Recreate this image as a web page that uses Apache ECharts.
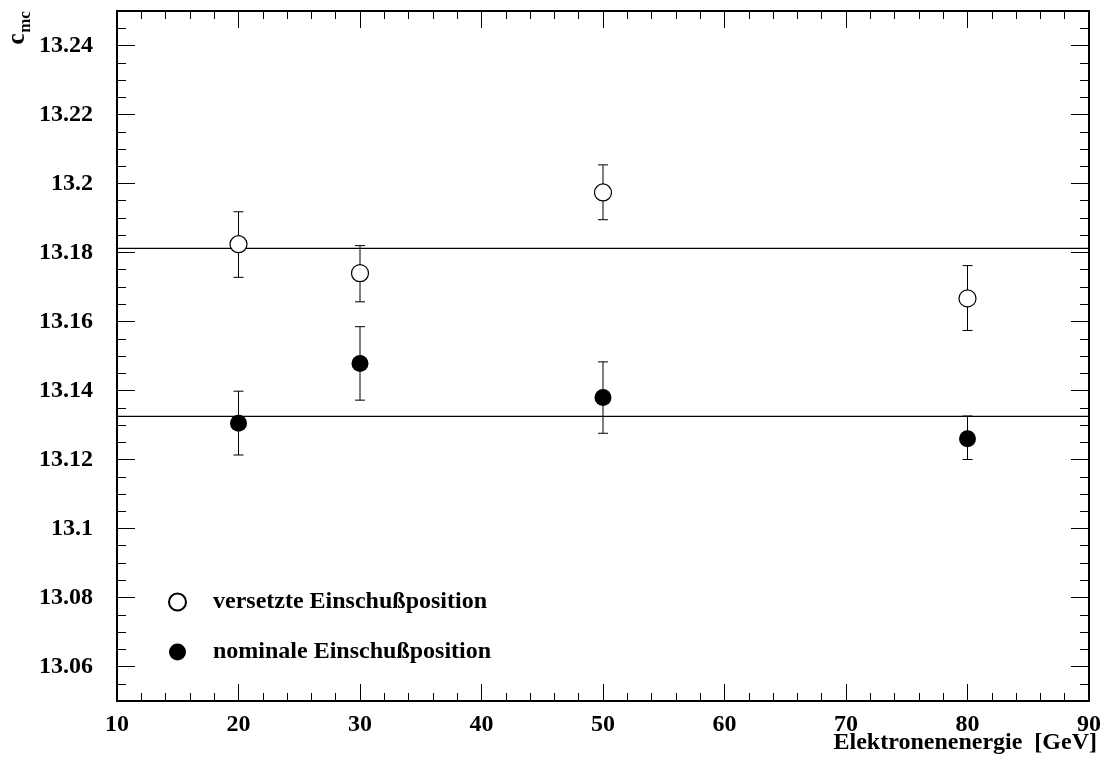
<!DOCTYPE html>
<html>
<head>
<meta charset="utf-8">
<script src="https://cdn.jsdelivr.net/npm/echarts@6/dist/echarts.min.js"></script>
<style>
  html, body { margin: 0; padding: 0; background: #fff; }
  #chart { width: 1104px; height: 767px; }
</style>
</head>
<body>
<div id="chart"></div>
<script>
// Elektronenenergie [GeV]
const energies = [20, 30, 50, 80];

// versetzte Einschußposition (offene Kreise)
const versetzt = [13.1824, 13.174, 13.1974, 13.1667];
const versetztLo = [13.1728, 13.1657, 13.1895, 13.1574];
const versetztHi = [13.1918, 13.182, 13.2054, 13.1762];

// nominale Einschußposition (volle Kreise)
const nominal = [13.1305, 13.1478, 13.138, 13.126];
const nominalLo = [13.1213, 13.1372, 13.1276, 13.12];
const nominalHi = [13.1398, 13.1585, 13.1483, 13.1326];

// Mittelwerte (horizontale Linien)
const fitVersetzt = 13.1812;
const fitNominal = 13.1325;

// Achsen
const xTicks = [10, 20, 30, 40, 50, 60, 70, 80, 90];
const yMajor = [13.06, 13.08, 13.1, 13.12, 13.14, 13.16, 13.18, 13.2, 13.22, 13.24];

const font = "'Liberation Serif', 'Times New Roman', serif";
const black = "#000";

let chart = echarts.init(document.getElementById("chart"));

function xAxisDef(pos, labels) {
  return {
    type: "value",
    position: pos,
    min: xTicks[0],
    max: xTicks[xTicks.length - 1],
    interval: 10,
    axisLine: { onZero: false, lineStyle: { color: black, width: 2 } },
    axisTick: { inside: true, length: 17, lineStyle: { color: black, width: 1 } },
    minorTick: { show: true, splitNumber: 5, length: 8, lineStyle: { color: black, width: 1 } },
    axisLabel: {
      show: labels,
      margin: 12,
      color: black,
      fontFamily: font,
      fontWeight: "bold",
      fontSize: 24
    },
    splitLine: { show: false },
    minorSplitLine: { show: false }
  };
}

function yMinorDef(pos, labels) {
  return {
    type: "value",
    position: pos,
    min: 13.05,
    max: 13.25,
    interval: 0.005,
    axisLine: { onZero: false, lineStyle: { color: black, width: 2 } },
    axisTick: { inside: true, length: 9, lineStyle: { color: black, width: 1 } },
    axisLabel: {
      show: labels,
      customValues: yMajor,
      margin: 24,
      color: black,
      fontFamily: font,
      fontWeight: "bold",
      fontSize: 24,
      formatter: v => String(+(+v).toFixed(2))
    },
    splitLine: { show: false }
  };
}

function yMajorDef(pos) {
  return {
    type: "value",
    position: pos,
    min: 13.05,
    max: 13.25,
    axisLine: { show: false },
    axisTick: { show: true, inside: true, length: 18, customValues: yMajor, lineStyle: { color: black, width: 1 } },
    axisLabel: { show: false },
    splitLine: { show: false }
  };
}

function errorBars(lo, hi) {
  return energies.map((e, i) => [e, lo[i], hi[i]]);
}

function renderError(params, api) {
  const x = api.value(0);
  const top = api.coord([x, api.value(2)]);
  const bot = api.coord([x, api.value(1)]);
  const cap = 5;
  const style = { stroke: black, lineWidth: 1 };
  return {
    type: "group",
    children: [
      { type: "line", shape: { x1: top[0], y1: top[1], x2: bot[0], y2: bot[1] }, style },
      { type: "line", shape: { x1: top[0] - cap, y1: top[1], x2: top[0] + cap, y2: top[1] }, style },
      { type: "line", shape: { x1: bot[0] - cap, y1: bot[1], x2: bot[0] + cap, y2: bot[1] }, style }
    ]
  };
}

let option = {
  animation: false,
  backgroundColor: "#fff",
  grid: { left: 117, right: 14, top: 11, bottom: 66 },
  xAxis: [xAxisDef("bottom", true), xAxisDef("top", false)],
  yAxis: [yMinorDef("left", true), yMajorDef("left"), yMinorDef("right", false), yMajorDef("right")],
  legend: {
    orient: "vertical",
    left: 168,
    top: 590,
    padding: 0,
    itemWidth: 17,
    itemHeight: 17,
    itemGap: 26,
    data: ["versetzte Einschußposition", "nominale Einschußposition"],
    textStyle: {
      color: black,
      fontFamily: font,
      fontWeight: "bold",
      fontSize: 24,
      padding: [0, 0, 0, 22]
    }
  },
  graphic: [
    {
      type: "text",
      x: 18,
      y: 39,
      rotation: Math.PI / 2,
      style: { text: "c", font: "bold 25px " + font, fill: black, align: "center", verticalAlign: "middle" }
    },
    {
      type: "text",
      x: 26,
      y: 22,
      rotation: Math.PI / 2,
      style: { text: "mc", font: "bold 17px " + font, fill: black, align: "center", verticalAlign: "middle" }
    },
    {
      type: "text",
      right: 7,
      top: 731,
      style: { text: "Elektronenenergie  [GeV]", font: "bold 24px " + font, fill: black }
    }
  ],
  series: [
    {
      type: "line",
      data: [[xTicks[0], fitVersetzt], [xTicks[xTicks.length - 1], fitVersetzt]],
      symbol: "none",
      silent: true,
      lineStyle: { color: black, width: 1.2 },
      z: 1
    },
    {
      type: "line",
      data: [[xTicks[0], fitNominal], [xTicks[xTicks.length - 1], fitNominal]],
      symbol: "none",
      silent: true,
      lineStyle: { color: black, width: 1.2 },
      z: 1
    },
    {
      type: "custom",
      renderItem: renderError,
      data: errorBars(versetztLo, versetztHi),
      z: 2
    },
    {
      type: "custom",
      renderItem: renderError,
      data: errorBars(nominalLo, nominalHi),
      z: 2
    },
    {
      name: "versetzte Einschußposition",
      type: "scatter",
      data: energies.map((e, i) => [e, versetzt[i]]),
      symbol: "circle",
      symbolSize: 17,
      itemStyle: { color: "#fff", borderColor: black, borderWidth: 1.2, opacity: 1 },
      z: 3
    },
    {
      name: "nominale Einschußposition",
      type: "scatter",
      data: energies.map((e, i) => [e, nominal[i]]),
      symbol: "circle",
      symbolSize: 17,
      itemStyle: { color: black, opacity: 1 },
      z: 3
    }
  ]
};

chart.setOption(option);
</script>
</body>
</html>
